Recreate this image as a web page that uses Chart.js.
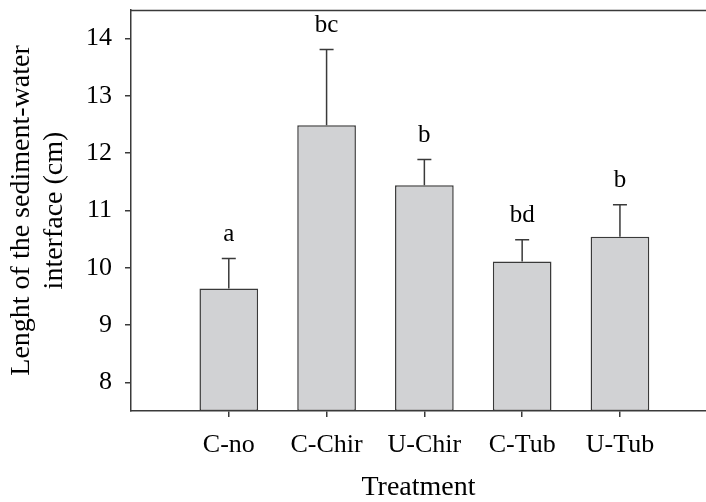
<!DOCTYPE html>
<html>
<head>
<meta charset="utf-8">
<script src="https://cdn.jsdelivr.net/npm/chart.js@4/dist/chart.umd.min.js"></script>
<style>
  html, body { margin: 0; padding: 0; background: #fff; }
  #wrap { width: 706px; height: 502px; }
</style>
</head>
<body>
<div id="wrap"><canvas id="barChart"></canvas></div>
<script>
// Treatment means, with the top of each error bar and the letter groups
const treatments = ['C-no', 'C-Chir', 'U-Chir', 'C-Tub', 'U-Tub'];
const means = [9.64, 12.49, 11.44, 10.11, 10.54];
const errorTops = [10.16, 13.81, 11.89, 10.49, 11.10];
const letters = ['a', 'bc', 'b', 'bd', 'b'];
const yTicks = [8, 9, 10, 11, 12, 13, 14];

const serif = '"Liberation Serif", "Times New Roman", serif';
const lineColor = '#3a3a3a';

// error bars, letters and top frame line
const errorBarPlugin = {
    id: 'errorBars',
    afterDatasetsDraw(chart) {
        const ctx = chart.ctx;
        const xs = chart.scales.x;
        const ys = chart.scales.y;
        const area = chart.chartArea;

        ctx.save();
        ctx.strokeStyle = lineColor;
        ctx.lineWidth = 1.5;
        means.forEach((m, i) => {
            const x = xs.getPixelForValue(i + 1);
            const y0 = ys.getPixelForValue(m);
            const y1 = ys.getPixelForValue(errorTops[i]);
            ctx.beginPath();
            ctx.moveTo(x, y0);
            ctx.lineTo(x, y1);
            ctx.moveTo(x - 7, y1);
            ctx.lineTo(x + 7, y1);
            ctx.stroke();

            ctx.fillStyle = '#000';
            ctx.font = '25px ' + serif;
            ctx.textAlign = 'center';
            ctx.textBaseline = 'alphabetic';
            ctx.fillText(letters[i], x, y1 - 18);
        });

        // top frame
        ctx.beginPath();
        ctx.moveTo(area.left, area.top + 0.5);
        ctx.lineTo(area.right, area.top + 0.5);
        ctx.stroke();
        ctx.restore();
    }
};

new Chart(document.getElementById('barChart').getContext('2d'), {
    type: 'bar',
    data: {
        datasets: [{
            data: means.map((m, i) => ({ x: i + 1, y: m })),
            base: 7.5,
            backgroundColor: '#d1d2d4',
            borderColor: lineColor,
            borderWidth: 1.5,
            borderSkipped: false,
            barPercentage: 0.6,
            categoryPercentage: 1.0
        }]
    },
    options: {
        responsive: true,
        maintainAspectRatio: false,
        animation: false,
        layout: { padding: { top: 10, left: 0, right: 0, bottom: 0 } },
        plugins: {
            legend: { display: false },
            tooltip: { enabled: false }
        },
        scales: {
            x: {
                type: 'linear',
                offset: false,
                min: 0,
                max: 5.88,
                afterBuildTicks: s => { s.ticks = treatments.map((t, i) => ({ value: i + 1 })); },
                afterFit: s => { s.height = 91; s.paddingLeft = 0; s.paddingRight = 0; },
                grid: { display: true, offset: false, drawOnChartArea: false, drawTicks: true, tickLength: 6, color: lineColor, lineWidth: 1.5 },
                border: { display: true, color: lineColor, width: 1.5 },
                ticks: {
                    callback: v => treatments[v - 1] || '',
                    color: '#000',
                    font: { family: serif, size: 26 },
                    padding: 13,
                    maxRotation: 0,
                    autoSkip: false
                },
                title: {
                    display: true,
                    text: 'Treatment',
                    color: '#000',
                    font: { family: serif, size: 28, lineHeight: 1.0 },
                    padding: { top: 0, bottom: 0 }
                }
            },
            y: {
                min: 7.5,
                max: 14.5,
                afterBuildTicks: s => { s.ticks = yTicks.map(v => ({ value: v })); },
                afterFit: s => { s.width = 131; s.paddingTop = 0; s.paddingBottom = 0; },
                grid: { display: true, drawOnChartArea: false, drawTicks: true, tickLength: 6, color: lineColor, lineWidth: 1.5 },
                border: { display: true, color: lineColor, width: 1.5 },
                ticks: {
                    color: '#000',
                    font: { family: serif, size: 26 },
                    padding: 13
                },
                title: {
                    display: true,
                    text: ['Lenght of the sediment-water', 'interface (cm)'],
                    color: '#000',
                    font: { family: serif, size: 28, lineHeight: 1.15 },
                    padding: { top: 6, bottom: 0 }
                }
            }
        }
    },
    plugins: [errorBarPlugin]
});
</script>
</body>
</html>
